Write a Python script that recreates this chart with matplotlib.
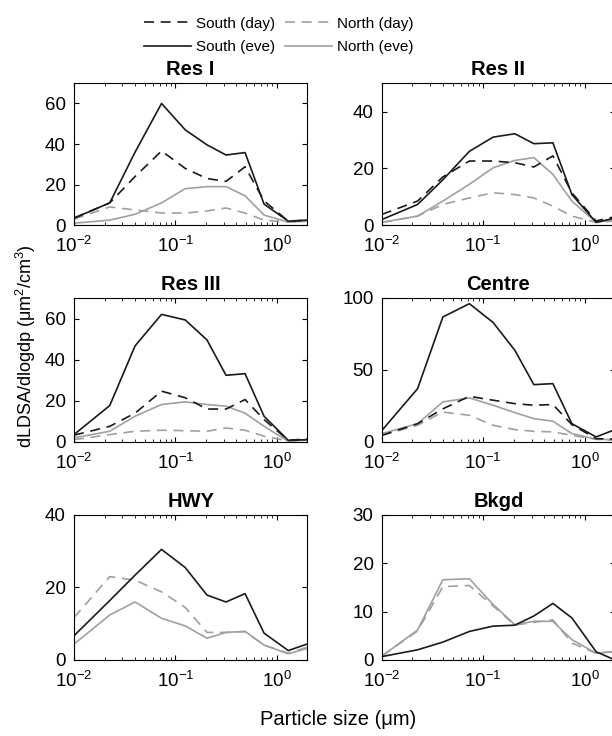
import matplotlib
matplotlib.use("Agg")
import matplotlib.pyplot as plt
from matplotlib.lines import Line2D

plt.rcParams['font.family'] = ['Liberation Sans', 'DejaVu Sans']
plt.rcParams['mathtext.fontset'] = 'custom'
plt.rcParams['mathtext.rm'] = 'Liberation Sans'
plt.rcParams['mathtext.it'] = 'Liberation Sans:italic'
plt.rcParams['mathtext.bf'] = 'Liberation Sans:bold'

# particle size bins (um)
size = [0.01, 0.0225, 0.04, 0.073, 0.125, 0.205, 0.316, 0.487, 0.75, 1.3, 2.0]

sites = ['Res I', 'Res II', 'Res III', 'Centre', 'HWY', 'Bkgd']
ymax = [70, 50, 70, 100, 40, 30]
yticks = [[0, 20, 40, 60], [0, 20, 40], [0, 20, 40, 60], [0, 50, 100], [0, 20, 40], [0, 10, 20, 30]]

# South (day)
south_day = {
    'Res I':   [3.5, 11, 24, 36.6, 28, 23, 21.6, 28.8, 12, 2, 2.5],
    'Res II':  [3.8, 8.5, 17, 22.6, 22.6, 22, 20.5, 24.4, 11.4, 1.5, 3],
    'Res III': [3.3, 7.6, 14, 24.7, 21.5, 16, 16, 20.6, 10.9, 0.8, 1.5],
    'Centre':  [4.6, 12.7, 23, 31.7, 29, 26.6, 25.5, 26, 12, 2.3, 2],
}
# South (eve)
south_eve = {
    'Res I':   [3.5, 11, 36, 60, 47, 39.6, 34.6, 35.8, 10.4, 2, 2.5],
    'Res II':  [2, 7.3, 16, 26, 31, 32.2, 28.7, 29, 10.8, 1, 2.5],
    'Res III': [3.6, 17.7, 46.7, 62, 59.3, 49.6, 32.4, 33.2, 12.5, 0.8, 1.1],
    'Centre':  [8, 37, 86.8, 96, 83, 63.7, 39.8, 40.5, 12.7, 3.5, 8.6],
    'HWY':     [6.7, 16.4, 23.4, 30.5, 25.5, 17.9, 16, 18.3, 7.4, 2.6, 4.4],
    'Bkgd':    [0.7, 2.1, 3.7, 5.9, 7, 7.2, 9.1, 11.7, 8.7, 1.7, 0],
}
# North (day)
north_day = {
    'Res I':   [3, 9, 7.5, 6, 6, 7, 8.5, 6, 2.5, 1.5, 2],
    'Res II':  [1, 3.2, 7.3, 9.6, 11.4, 10.8, 9.6, 6.7, 3.2, 1, 1.5],
    'Res III': [1.1, 3.6, 5.2, 5.7, 5.5, 5.2, 6.8, 5.7, 2.8, 0.5, 1],
    'Centre':  [4.6, 11.6, 20.8, 18.5, 11.6, 8.6, 7.4, 7, 4.6, 1.9, 1.2],
    'HWY':     [11.7, 23, 22, 18.8, 14.5, 7.6, 7.6, 7.8, 4.1, 1.9, 3.5],
    'Bkgd':    [0.8, 6, 15.2, 15.4, 11.2, 7.2, 7.8, 8.3, 3.5, 1.4, 1.8],
}
# North (eve)
north_eve = {
    'Res I':   [1, 2.5, 5.4, 11, 18, 19, 19, 14.5, 5, 1.5, 2],
    'Res II':  [1, 3.2, 8.5, 14.4, 20.2, 22.8, 23.8, 17.9, 8.5, 1, 2],
    'Res III': [2, 5.2, 12.5, 18.2, 19.5, 18.2, 17.4, 14, 7.6, 0.3, 1],
    'Centre':  [5.8, 12.7, 27.8, 30.6, 25.5, 20.4, 16.2, 14.4, 5.8, 1.9, 1.6],
    'HWY':     [4.4, 12.4, 16, 11.5, 9.4, 6, 7.6, 7.9, 4.1, 1.7, 3.2],
    'Bkgd':    [0.8, 6.2, 16.6, 16.8, 11.5, 7.3, 8, 8, 4.2, 1.4, 1.7],
}

black = '#1a1a1a'
gray = '#a0a0a0'
lw = 1.2
dash = (6, 4)

fig = plt.figure(figsize=(6.12, 7.36), dpi=100)

lefts = [0.121, 0.624]
bottoms = [0.694, 0.3995, 0.1033]
heights = [0.193, 0.1957, 0.197]
w = 0.381

for i, site in enumerate(sites):
    r, c = divmod(i, 2)
    ax = fig.add_axes([lefts[c], bottoms[r], w, heights[r]])
    if site in north_day:
        ax.plot(size, north_day[site], color=gray, lw=lw, dashes=dash)
    if site in north_eve:
        ax.plot(size, north_eve[site], color=gray, lw=lw)
    if site in south_day:
        ax.plot(size, south_day[site], color=black, lw=lw, dashes=dash)
    if site in south_eve:
        ax.plot(size, south_eve[site], color=black, lw=lw)
    ax.set_xscale('log')
    ax.set_xlim(0.01, 2.0)
    ax.set_ylim(0, ymax[i])
    ax.set_yticks(yticks[i])
    ax.set_xticks([0.01, 0.1, 1])
    ax.tick_params(which='both', direction='in', top=True, right=True,
                   labelsize=13.5, colors='black')
    ax.tick_params(axis='y', pad=6)
    ax.tick_params(axis='x', pad=8)
    ax.tick_params(which='major', length=3.5)
    ax.tick_params(which='minor', length=2)
    for sp in ax.spines.values():
        sp.set_linewidth(0.8)
    ax.set_title(site, fontsize=14.5, fontweight='bold', pad=6)

# legend
handles = [
    Line2D([], [], color=black, lw=lw, dashes=dash),
    Line2D([], [], color=black, lw=lw),
    Line2D([], [], color=gray, lw=lw, dashes=dash),
    Line2D([], [], color=gray, lw=lw),
]
labels = ['South (day)', 'South (eve)', 'North (day)', 'North (eve)']
fig.legend(handles, labels, ncol=2, loc='upper center', bbox_to_anchor=(0.455, 0.992),
           frameon=False, fontsize=11, handlelength=3.1, handletextpad=0.3,
           columnspacing=0.65, labelspacing=0.62, borderpad=0.2)

fig.text(0.042, 0.53, 'dLDSA/dlogdp (μm$^2$/cm$^3$)', rotation=90,
         ha='center', va='center', fontsize=13)
fig.text(0.552, 0.022, 'Particle size (μm)', ha='center', va='center', fontsize=14.5)

fig.savefig('out.png', dpi=100)
plt.close('all')
